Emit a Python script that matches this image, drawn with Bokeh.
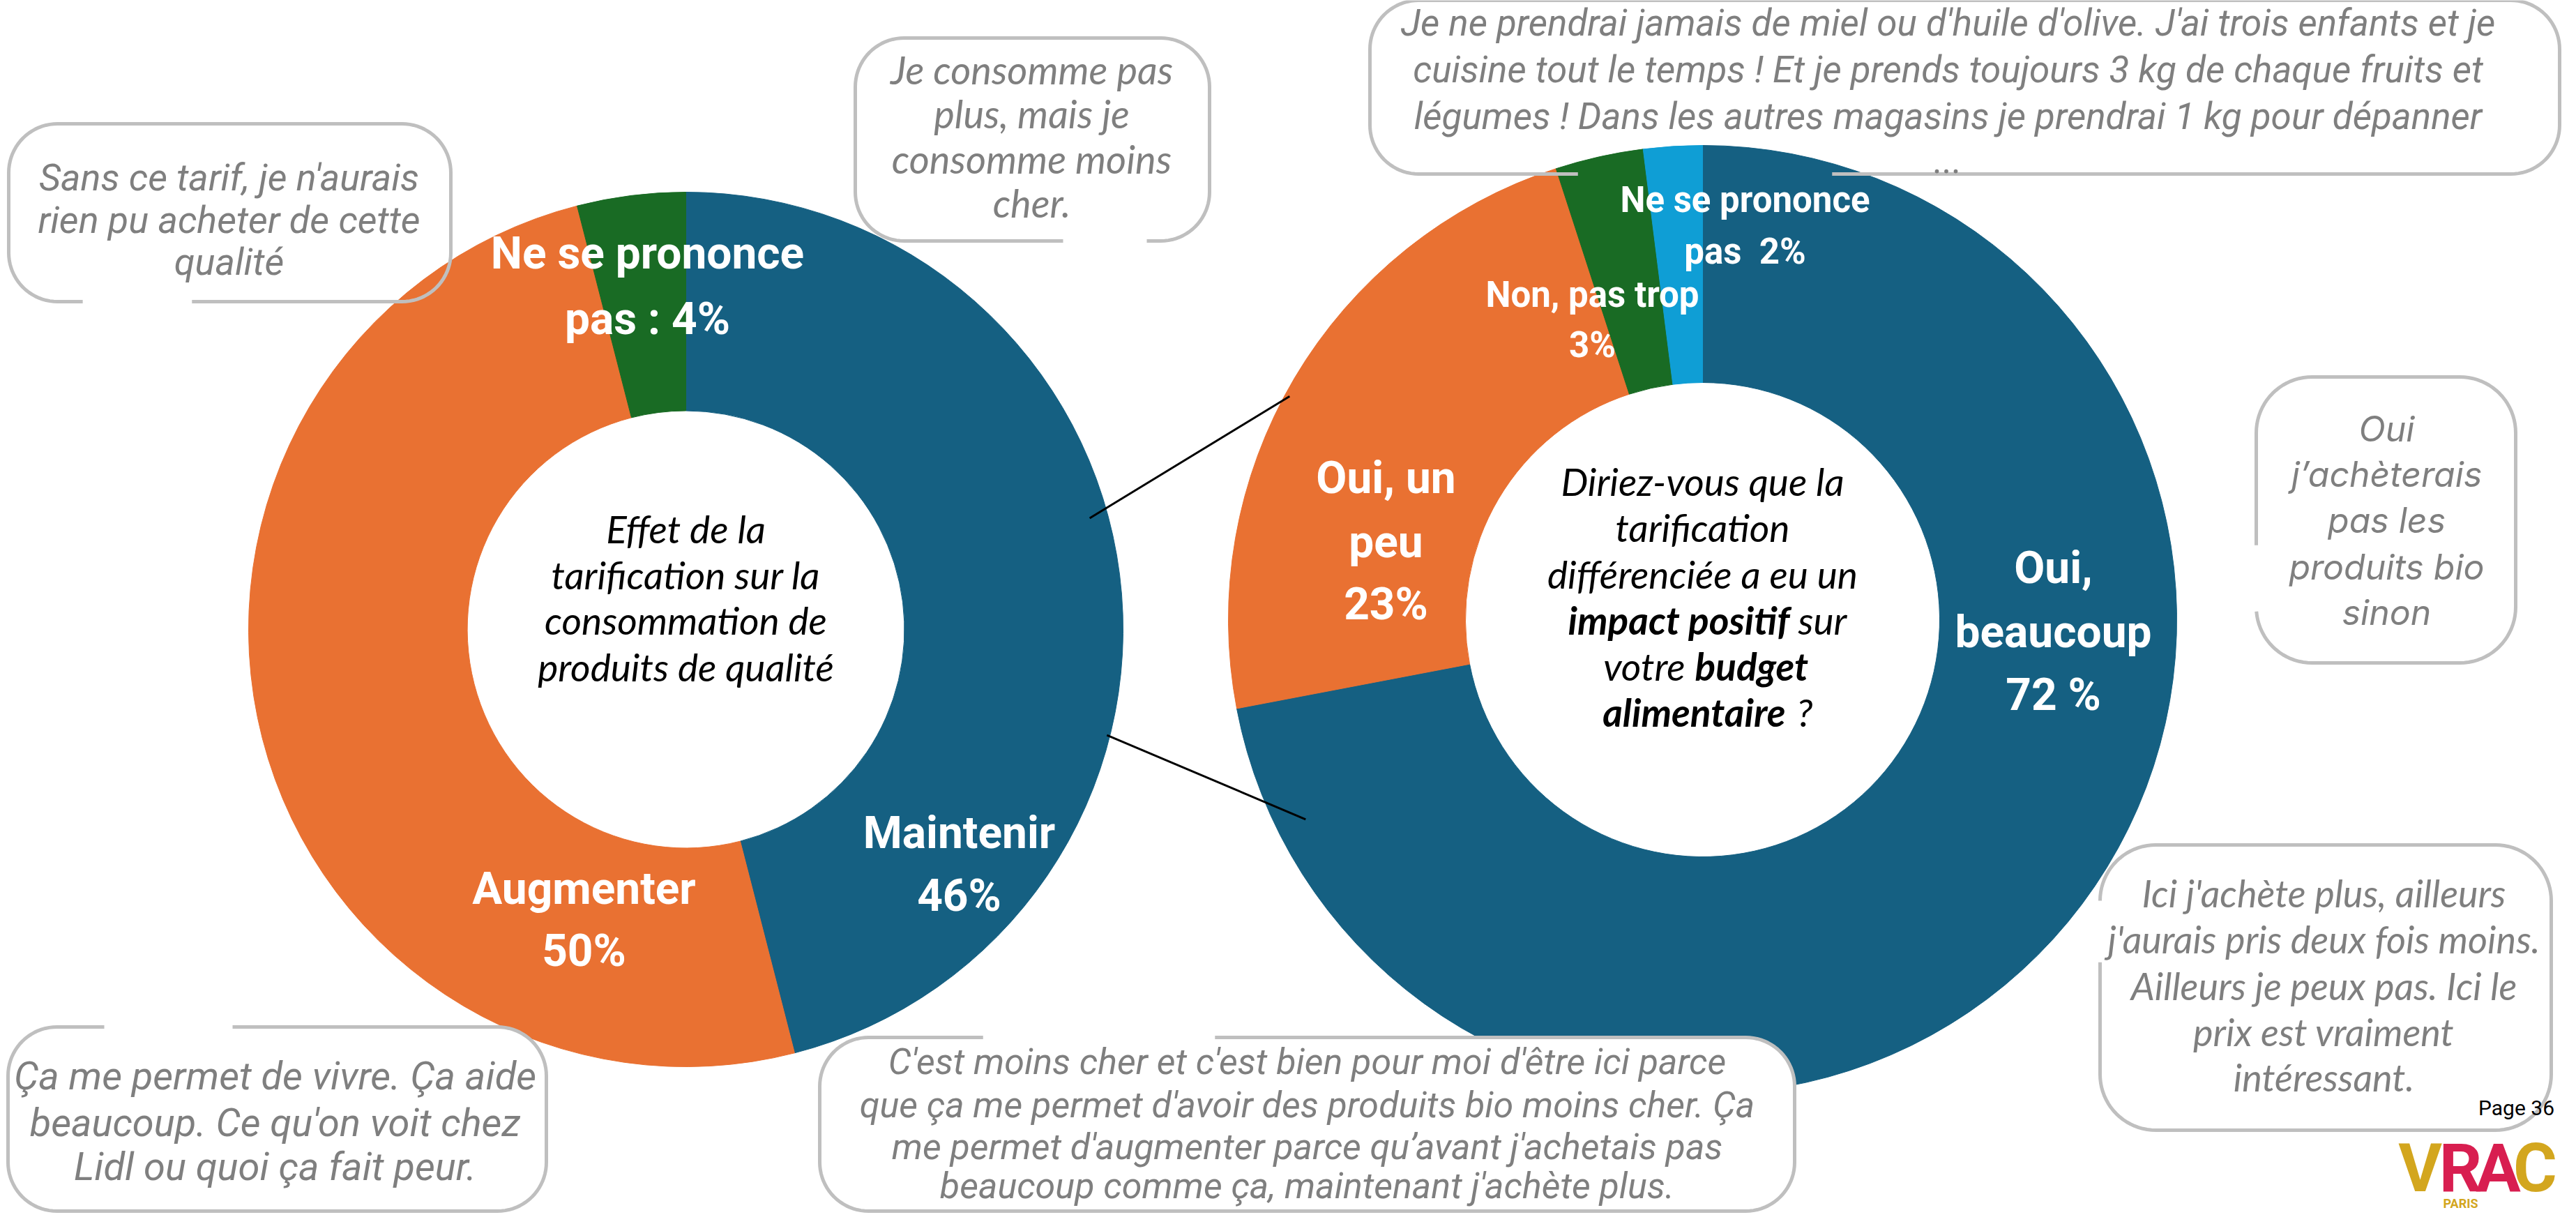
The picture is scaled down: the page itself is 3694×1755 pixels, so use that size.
import numpy as np
from bokeh.plotting import figure
from bokeh.models import Range1d, ColumnDataSource
from bokeh.core.properties import value
from bokeh.embed import file_html
from bokeh.resources import INLINE

# ------------------------------------------------------------------ data
left_categories = ["Maintenir", "Augmenter", "Ne se prononce pas"]
left_values = [46, 50, 4]
left_colors = ["#156082", "#E97132", "#196B24"]
left_label_lines = [["Maintenir", "46%"], ["Augmenter", "50%"], ["Ne se prononce", "pas : 4%"]]

right_categories = ["Oui, beaucoup", "Oui, un peu", "Non, pas trop", "Ne se prononce pas"]
right_values = [72, 23, 3, 2]
right_colors = ["#156082", "#E97132", "#196B24", "#0F9ED5"]
right_label_lines = [["Oui,", "beaucoup", "72 %"], ["Oui, un", "peu", "23%"],
                     ["Non, pas trop", "3%"], ["Ne se prononce", "pas\u00a0\u00a02%"]]

left_title_lines = ["Effet de la", "tarification sur la", "consommation de", "produits de qualité"]
right_title_plain = ["Diriez-vous que la", "tarification", "différenciée a eu un"]
right_title_mixed = [[("impact positif", "bold italic"), ("sur", "italic")],
                     [("votre", "italic"), ("budget", "bold italic")],
                     [("alimentaire", "bold italic"), ("?", "italic")]]

quote_sans_tarif = ["Sans ce tarif, je n'aurais", "rien pu acheter de cette", "qualité"]
quote_consomme = ["Je consomme pas", "plus, mais je", "consomme moins", "cher."]
quote_miel = ["Je ne prendrai jamais de miel ou d'huile d'olive. J'ai trois enfants et je",
              "cuisine tout le temps ! Et je prends toujours 3 kg de chaque fruits et",
              "légumes ! Dans les autres magasins je prendrai 1 kg pour dépanner",
              "..."]
quote_bio = ["Oui", "j’achèterais", "pas les", "produits bio", "sinon"]
quote_vivre = ["Ça me permet de vivre. Ça aide", "beaucoup. Ce qu'on voit chez",
               "Lidl ou quoi ça fait peur."]
quote_moins_cher = ["C'est moins cher et c'est bien pour moi d'être ici parce",
                    "que ça me permet d'avoir des produits bio moins cher. Ça",
                    "me permet d'augmenter parce qu’avant j'achetais pas",
                    "beaucoup comme ça, maintenant j'achète plus."]
quote_ici = ["Ici j'achète plus, ailleurs", "j'aurais pris deux fois moins.",
             "Ailleurs je peux pas. Ici le", "prix est vraiment", "intéressant."]

page_label = "Page 36"
logo_letters = ["V", "R", "A", "C"]
logo_colors = ["#D3A61E", "#D81E50", "#D81E50", "#D3A61E"]

# ------------------------------------------------------------------ layout (screen px)
W, H = 3694, 1755
def Y(s):
    return H - s

GREY_TXT = "#7F7F7F"
GREY_BORDER = "#BFBFBF"

p = figure(width=3678, height=1739, x_range=Range1d(8, 3686), y_range=Range1d(8, 1747),
           output_backend="svg", toolbar_location=None, min_border=0,
           x_axis_type=None, y_axis_type=None)
p.xgrid.visible = False
p.ygrid.visible = False
p.outline_line_color = None
p.background_fill_color = "white"
p.border_fill_color = "white"


def donut(cx, cy, r_out, vals, colors, cats):
    v = np.asarray(vals, dtype=float)
    cum = np.concatenate([[0.0], np.cumsum(v)]) / v.sum() * 2 * np.pi
    src = ColumnDataSource(dict(
        x=[cx] * len(v), y=[Y(cy)] * len(v),
        start=list(np.pi / 2 - cum[:-1]), end=list(np.pi / 2 - cum[1:]),
        color=colors, cat=cats))
    p.annular_wedge(x="x", y="y", inner_radius=r_out * 0.5, outer_radius=r_out,
                    start_angle="start", end_angle="end", direction="clock",
                    fill_color="color", line_color="color", line_width=1, source=src)


def text_lines(x, ys, lines, font, size, style, color, align="center"):
    p.text(x=[x] * len(lines), y=[Y(v) for v in ys], text=lines,
           text_align=align, text_baseline="middle",
           text_font=value(font), text_font_size=value(f"{size}px"),
           text_font_style=style, text_color=color)


def bubble_path(x0, y0, x1, y1, r, gap_side=None, gap=(0, 0), step=4.0):
    pts, sides = [], []

    def add_line(xa, ya, xb, yb, side):
        n = max(2, int(np.hypot(xb - xa, yb - ya) / step))
        for t in np.linspace(0, 1, n, endpoint=False):
            pts.append((xa + (xb - xa) * t, ya + (yb - ya) * t))
            sides.append(side)

    def add_arc(cx, cy, a0, a1):
        for a in np.radians(np.linspace(a0, a1, 20, endpoint=False)):
            pts.append((cx + r * np.cos(a), cy + r * np.sin(a)))
            sides.append("corner")

    add_line(x0 + r, y0, x1 - r, y0, "top")
    add_arc(x1 - r, y0 + r, 270, 360)
    add_line(x1, y0 + r, x1, y1 - r, "right")
    add_arc(x1 - r, y1 - r, 0, 90)
    add_line(x1 - r, y1, x0 + r, y1, "bottom")
    add_arc(x0 + r, y1 - r, 90, 180)
    add_line(x0, y1 - r, x0, y0 + r, "left")
    add_arc(x0 + r, y0 + r, 180, 270)
    P = np.array(pts)
    S = np.array(sides)
    if gap_side is None:
        Q = np.vstack([P, P[:1]])
        return P, Q
    coord = P[:, 0] if gap_side in ("top", "bottom") else P[:, 1]
    removed = (S == gap_side) & (coord > gap[0]) & (coord < gap[1])
    idx = np.where(removed)[0]
    start = (idx[-1] + 1) % len(P)
    Pr = np.roll(P, -start, axis=0)
    keep = np.roll(~removed, -start)
    return P, Pr[keep]


def bubble(box, r, gap_side, gap, fill):
    poly, outline = bubble_path(*box, r, gap_side, gap)
    if fill:
        p.patch(x=poly[:, 0], y=[Y(v) for v in poly[:, 1]], fill_color="white", line_color=None)
    p.line(x=outline[:, 0], y=[Y(v) for v in outline[:, 1]], line_color=GREY_BORDER, line_width=5)


# ------------------------------------------------------------------ donuts
LC, LR = (991, 910), 627
RC, RR = (2449, 896), 680
donut(LC[0], LC[1], LR, left_values, left_colors, left_categories)
donut(RC[0], RC[1], RR, right_values, right_colors, right_categories)

# connector lines (pie of pie style)
def ring_pt(c, r, deg):
    a = np.radians(deg)
    return c[0] + r * np.cos(a), c[1] - r * np.sin(a)

for (da, fa), (db, fb) in [((15.4, 0.958), (151.6, 0.99)), ((-14.1, 0.993), (206.7, 0.937))]:
    xa, ya = ring_pt(LC, LR * fa, da)
    xb, yb = ring_pt(RC, RR * fb, db)
    p.line(x=[xa, xb], y=[Y(ya), Y(yb)], line_color="black", line_width=3)

# top bubbles (transparent, border over chart)
bubble((20, 185, 654, 440), 70, "bottom", (129, 279), False)
bubble((1234, 62, 1742, 353), 70, "bottom", (1533, 1652), False)
bubble((1972, 8, 3678, 257), 70, "bottom", (2274, 2631), False)
bubble((3243, 548, 3615, 958), 80, "left", (790, 887), False)

# bottom bubbles (white filled, over chart)
bubble((19, 1480, 791, 1744), 70, "top", (157, 339), True)
bubble((1183, 1495, 2581, 1744), 70, "top", (1418, 1748), True)
bubble((3019, 1219, 3666, 1628), 80, "left", (1292, 1384), True)

# ------------------------------------------------------------------ donut labels
left_label_pos = [(1383, [1202, 1292]), (845, [1282, 1371]), (936, [371, 465])]
for lines, (x, ys) in zip(left_label_lines, left_label_pos):
    text_lines(x, ys, lines, "Roboto", 64, "bold", "white")

right_label_pos = [(2952, [822, 914, 1004], 64), (1995, [693, 785, 874], 64),
                   (2291, [430, 502], 51), (2510, [294, 368], 51)]
for lines, (x, ys, fs) in zip(right_label_lines, right_label_pos):
    text_lines(x, ys, lines, "Roboto", fs, "bold", "white")

# ------------------------------------------------------------------ centre titles
TF = 55
text_lines(LC[0], [765, 831, 896, 963], left_title_lines, "Lato", TF, "italic", "black")
text_lines(RC[0], [697, 763, 830], right_title_plain, "Lato", TF, "italic", "black")
mixed_y = [896, 962, 1028]
mixed_split = [(2574, 2586), (2424, 2438), (2568, 2584)]
for segs, yy, (xl, xr) in zip(right_title_mixed, mixed_y, mixed_split):
    (t1, s1), (t2, s2) = segs
    text_lines(xl, [yy], [t1], "Lato", TF, s1, "black", align="right")
    text_lines(xr, [yy], [t2], "Lato", TF, s2, "black", align="left")

# ------------------------------------------------------------------ quotes
text_lines(336, [262, 323, 383], quote_sans_tarif, "Roboto", 54, "italic", GREY_TXT)
text_lines(1487, [107, 170, 235, 298], quote_consomme, "Lato", 56, "italic", GREY_TXT)
text_lines(2801, [40, 107, 174, 236], quote_miel, "Roboto", 53, "italic", GREY_TXT)
text_lines(3430, [622, 687, 753, 820, 885], quote_bio, "Inter", 50, "italic", GREY_TXT)
text_lines(402, [1550, 1617, 1680], quote_vivre, "Roboto", 56, "italic", GREY_TXT)
text_lines(1882, [1530, 1592, 1652, 1708], quote_moins_cher, "Roboto", 52, "italic", GREY_TXT)
text_lines(3340, [1288, 1354, 1421, 1487, 1552], quote_ici, "Lato", 54, "italic", GREY_TXT)

# ------------------------------------------------------------------ page number + logo
text_lines(3616, [1596], [page_label], "Roboto", 30, "normal", "black")
logo_x = [3478, 3536, 3590, 3643]
p.text(x=logo_x, y=[Y(1682)] * 4, text=logo_letters, text_align="center", text_baseline="middle",
       text_font=value("Roboto"), text_font_size=value("96px"), text_font_style="bold",
       text_color=logo_colors)
text_lines(3536, [1733], ["PARIS"], "Roboto", 18, "bold", "#D3A61E")

open("out.html", "w").write(file_html(p, INLINE))
